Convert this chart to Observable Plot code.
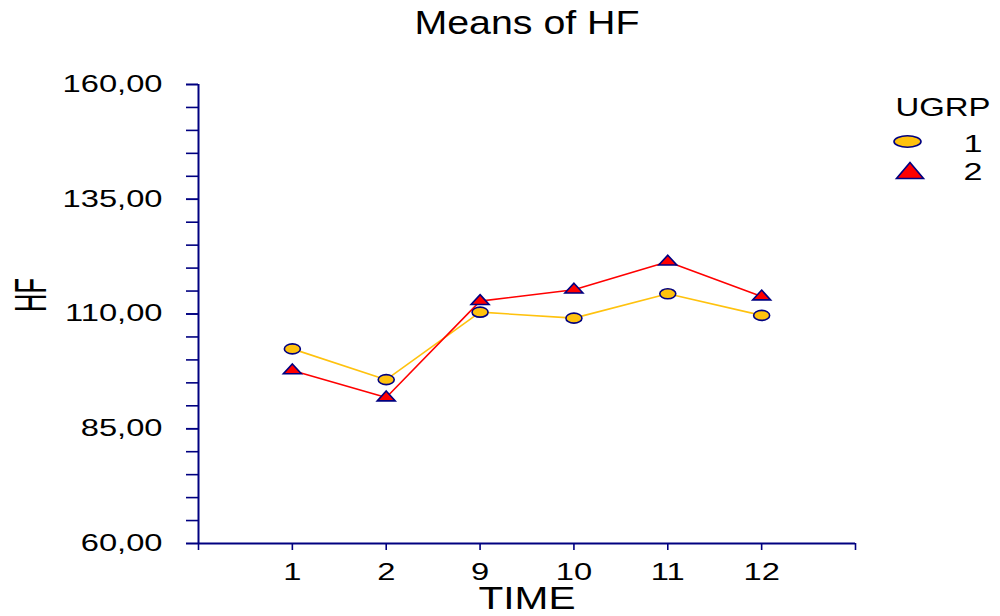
<!DOCTYPE html>
<html><head><meta charset="utf-8">
<script src="https://cdn.jsdelivr.net/npm/d3@7"></script>
<script src="https://cdn.jsdelivr.net/npm/@observablehq/plot@0.6"></script>
<style>body{margin:0;background:#fff} #chart{width:1000px;height:616px}</style>
</head><body><div id="chart"></div>
<script>
const times = ["1", "2", "9", "10", "11", "12"];
const group1 = [102.4, 95.7, 110.4, 109.1, 114.4, 109.7];
const group2 = [97.7, 91.8, 112.8, 115.3, 121.4, 113.8];
const groups = ["1", "2"];
const yTicks = [60, 85, 110, 135, 160];
const yMinor = d3.range(60, 161, 5);
const xTicks = d3.range(0, 8);

const rows1 = times.map((t, i) => ({time: t, pos: i + 1, hf: group1[i], g: groups[0]}));
const rows2 = times.map((t, i) => ({time: t, pos: i + 1, hf: group2[i], g: groups[1]}));

const navy = "#000080", gold = "#FFC20E", red = "#FF0000";

function ellipseSymbol(rx, ry) {
  return {draw(ctx) {
    const k = 0.5523;
    ctx.moveTo(rx, 0);
    ctx.bezierCurveTo(rx, ry * k, rx * k, ry, 0, ry);
    ctx.bezierCurveTo(-rx * k, ry, -rx, ry * k, -rx, 0);
    ctx.bezierCurveTo(-rx, -ry * k, -rx * k, -ry, 0, -ry);
    ctx.bezierCurveTo(rx * k, -ry, rx, -ry * k, rx, 0);
    ctx.closePath();
  }};
}
function triSymbol(hw, up, down) {
  return {draw(ctx) {
    ctx.moveTo(0, -up); ctx.lineTo(hw, down); ctx.lineTo(-hw, down); ctx.closePath();
  }};
}
const fmt = d => d.toFixed(2).replace(".", ",");

const plot = Plot.plot({
  width: 1000, height: 616,
  marginLeft: 198, marginRight: 145, marginTop: 84, marginBottom: 73,
  style: {fontFamily: "'Liberation Sans', Arial, sans-serif", background: "#fff", color: "black"},
  x: {domain: [0, 7]},
  y: {domain: [60, 160]},
  marks: [
    Plot.axisY({ticks: yMinor, tickSize: 12, tickFormat: () => "", stroke: navy, strokeWidth: 1.6, label: null}),
    Plot.axisY({ticks: yTicks, tickSize: 12, tickPadding: 24, tickFormat: fmt, stroke: navy, strokeWidth: 1.6, fill: "black", fontSize: 23, label: null}),
    Plot.axisX({ticks: xTicks, tickSize: 7, tickPadding: 13, tickFormat: d => times[d - 1] ?? "", stroke: navy, strokeWidth: 1.6, fill: "black", fontSize: 23, label: null}),
    Plot.ruleX([0], {y1: 60, y2: 160, stroke: navy, strokeWidth: 2}),
    Plot.ruleY([60], {x1: 0, x2: 7, stroke: navy, strokeWidth: 2}),
    Plot.line(rows1, {x: "pos", y: "hf", stroke: gold, strokeWidth: 1.6}),
    Plot.line(rows2, {x: "pos", y: "hf", stroke: red, strokeWidth: 1.6}),
    Plot.dot(rows1, {x: "pos", y: "hf", symbol: ellipseSymbol(8, 5), fill: gold, stroke: navy, strokeWidth: 1.6}),
    Plot.dot(rows2, {x: "pos", y: "hf", symbol: triSymbol(9, 6.5, 3.3), fill: red, stroke: navy, strokeWidth: 1.6}),
    // title and axis titles
    Plot.text(["Means of HF"], {frameAnchor: "top", dy: -61, fontSize: 33, lineAnchor: "middle", fill: "black"}),
    Plot.text(["TIME"], {frameAnchor: "bottom", dy: 55.5, fontSize: 31, lineAnchor: "middle", fill: "black"}),
    Plot.text(["HF"], {frameAnchor: "left", dx: -167, dy: -2, rotate: -90, fontSize: 44, lineAnchor: "middle", fill: "black"}),
    // legend
    Plot.text(["UGRP"], {frameAnchor: "top-right", dx: 40, dy: 23, textAnchor: "start", fontSize: 25, lineAnchor: "middle", fill: "black"}),
    Plot.dot([groups[0]], {frameAnchor: "top-right", dx: 52, dy: 57, symbol: ellipseSymbol(13.5, 5.8), fill: gold, stroke: navy, strokeWidth: 1.6}),
    Plot.dot([groups[1]], {frameAnchor: "top-right", dx: 54.5, dy: 88.5, symbol: triSymbol(13.5, 10.5, 5.5), fill: red, stroke: navy, strokeWidth: 1.6}),
    Plot.text([groups[0]], {frameAnchor: "top-right", dx: 108, dy: 59.5, text: d => d, textAnchor: "start", fontSize: 24, lineAnchor: "middle", fill: "black"}),
    Plot.text([groups[1]], {frameAnchor: "top-right", dx: 108, dy: 87.5, text: d => d, textAnchor: "start", fontSize: 24, lineAnchor: "middle", fill: "black"})
  ]
});
document.getElementById("chart").append(plot);

const widths = {"Means of HF": 225, "TIME": 97, "UGRP": 95, "HF": 34};
plot.querySelectorAll("text").forEach(t => {
  const txt = t.textContent;
  if (!txt) return;
  const len = t.getComputedTextLength();
  const target = widths[txt] ?? len * 1.42;
  t.setAttribute("textLength", target);
  t.setAttribute("lengthAdjust", "spacingAndGlyphs");
});
</script>
</body></html>
